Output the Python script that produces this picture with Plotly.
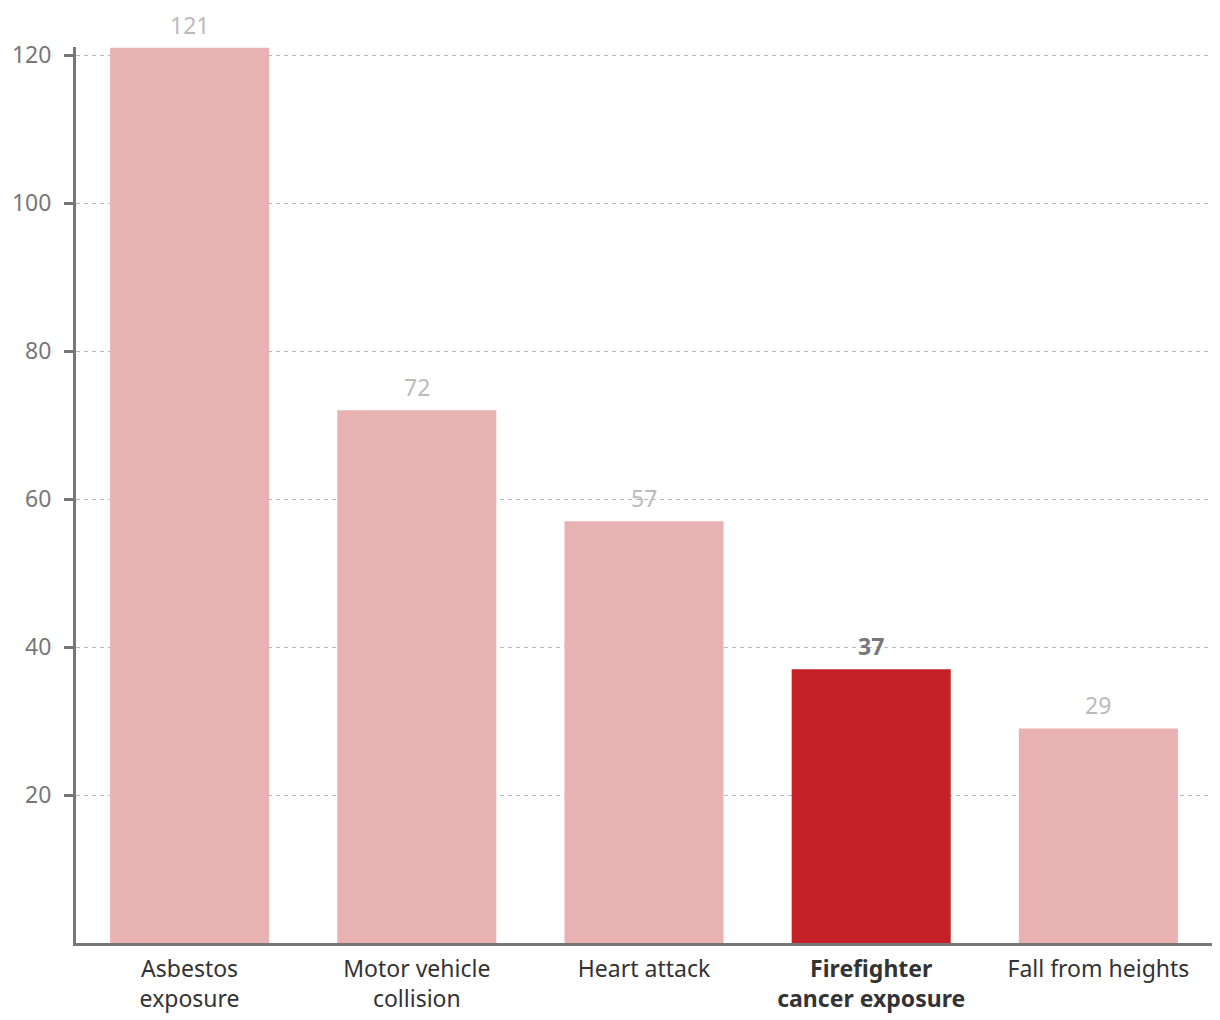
import plotly.graph_objects as go

categories = ["Asbestos<br>exposure", "Motor vehicle<br>collision", "Heart attack",
              "<b>Firefighter<br>cancer exposure</b>", "Fall from heights"]
values = [121, 72, 57, 37, 29]
highlight = [False, False, False, True, False]
y_ticks = [20, 40, 60, 80, 100, 120]

FONT = "Noto Sans"
colors = ["#C32028" if h else "#E8B1B2" for h in highlight]

fig = go.Figure()
fig.add_trace(go.Bar(
    x=list(range(len(categories))), y=values,
    marker=dict(color=colors, line=dict(width=0)),
    width=0.7, hoverinfo="skip",
))

for i, (v, h) in enumerate(zip(values, highlight)):
    fig.add_annotation(
        x=i, y=v, text=f"<b>{v}</b>" if h else str(v),
        showarrow=False, yanchor="middle", yshift=23,
        font=dict(family=FONT, size=23, color="#777777" if h else "#BBBBBB"),
    )

fig.update_layout(
    width=1220, height=1020,
    margin=dict(l=68, r=16, t=39, b=85, autoexpand=False),
    plot_bgcolor="white", paper_bgcolor="white",
    showlegend=False, bargap=0.3,
    font=dict(family=FONT),
)
fig.update_xaxes(
    tickmode="array", tickvals=list(range(len(categories))), ticktext=categories,
    range=[-0.5, 4.5], showgrid=False,
    showline=True, linecolor="#777777", linewidth=3,
    ticks="", tickfont=dict(family=FONT, size=23, color="#333333"),
    ticklabelstandoff=3, automargin=False,
    fixedrange=True,
)
fig.update_yaxes(
    range=[0, 121.1], tickmode="array", tickvals=y_ticks,
    showgrid=True, gridcolor="#B3BABF", griddash="4px,4px", gridwidth=1.3,
    showline=True, linecolor="#777777", linewidth=3,
    ticks="outside", ticklen=9, tickwidth=3, tickcolor="#777777",
    tickfont=dict(family=FONT, size=23, color="#777777"),
    ticklabelstandoff=8, automargin=False,
    zeroline=False, fixedrange=True,
)
fig.write_html("out.html")
